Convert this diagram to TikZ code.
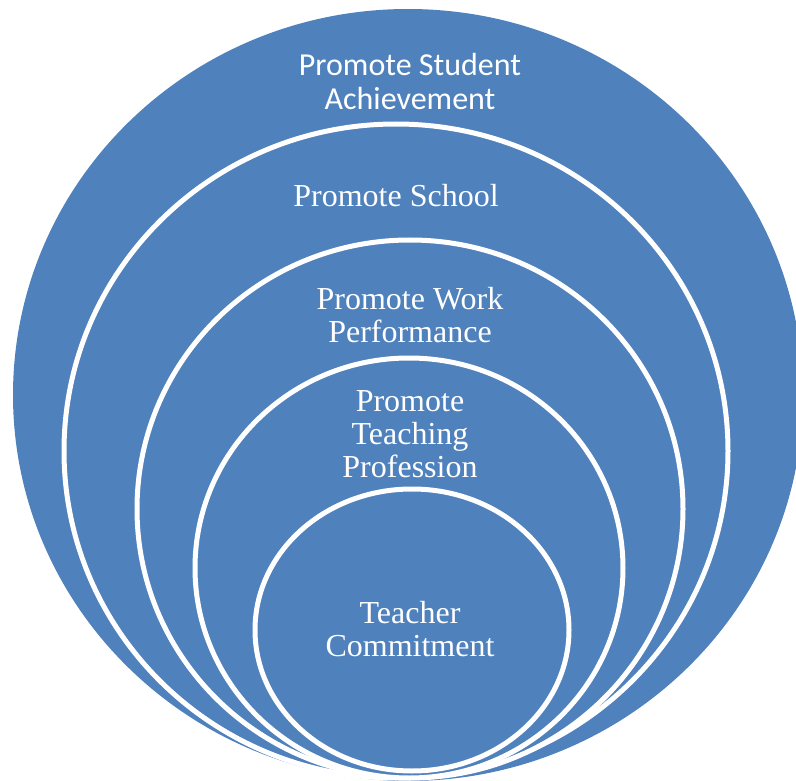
\documentclass[tikz,border=0pt]{standalone}
\usepackage{fontspec}
\setmainfont{Liberation Serif}
\newfontfamily\calibri{Carlito}
\usepackage{tikz}
\definecolor{ringblue}{HTML}{4F81BD}
\tikzset{
  ring/.style={fill=ringblue, draw=white, line width=5pt},
  ringtext/.style={text=white, align=center, anchor=base, inner sep=0pt,
    font=\fontsize{32}{33}\selectfont}
}
\begin{document}
\begin{tikzpicture}[x=1pt,y=-1pt]
\useasboundingbox (0,0) rectangle (796,781);
\clip (0,0) rectangle (796,781);
%RINGS
\fill[ringblue] (408,395) ellipse [x radius=395, y radius=386];
\draw[ring] (396,451) ellipse [x radius=332, y radius=327];
\draw[ring] (410,509) ellipse [x radius=273, y radius=269];
\draw[ring] (409,568) ellipse [x radius=214, y radius=210];
\draw[ring] (412,630) ellipse [x radius=157, y radius=141];
%TEXT (base = last line)
\node[ringtext, font=\calibri\fontsize{32}{34}\selectfont] (student) at (410,110) {Promote Student\\Achievement};
\node[ringtext] (school) at (396,207) {Promote School};
\node[ringtext] (work) at (410,342) {Promote Work\\Performance};
\node[ringtext] (teaching) at (410,477) {Promote\\Teaching\\Profession};
\node[ringtext] (commit) at (410,656) {Teacher\\Commitment};
\end{tikzpicture}
\end{document}
